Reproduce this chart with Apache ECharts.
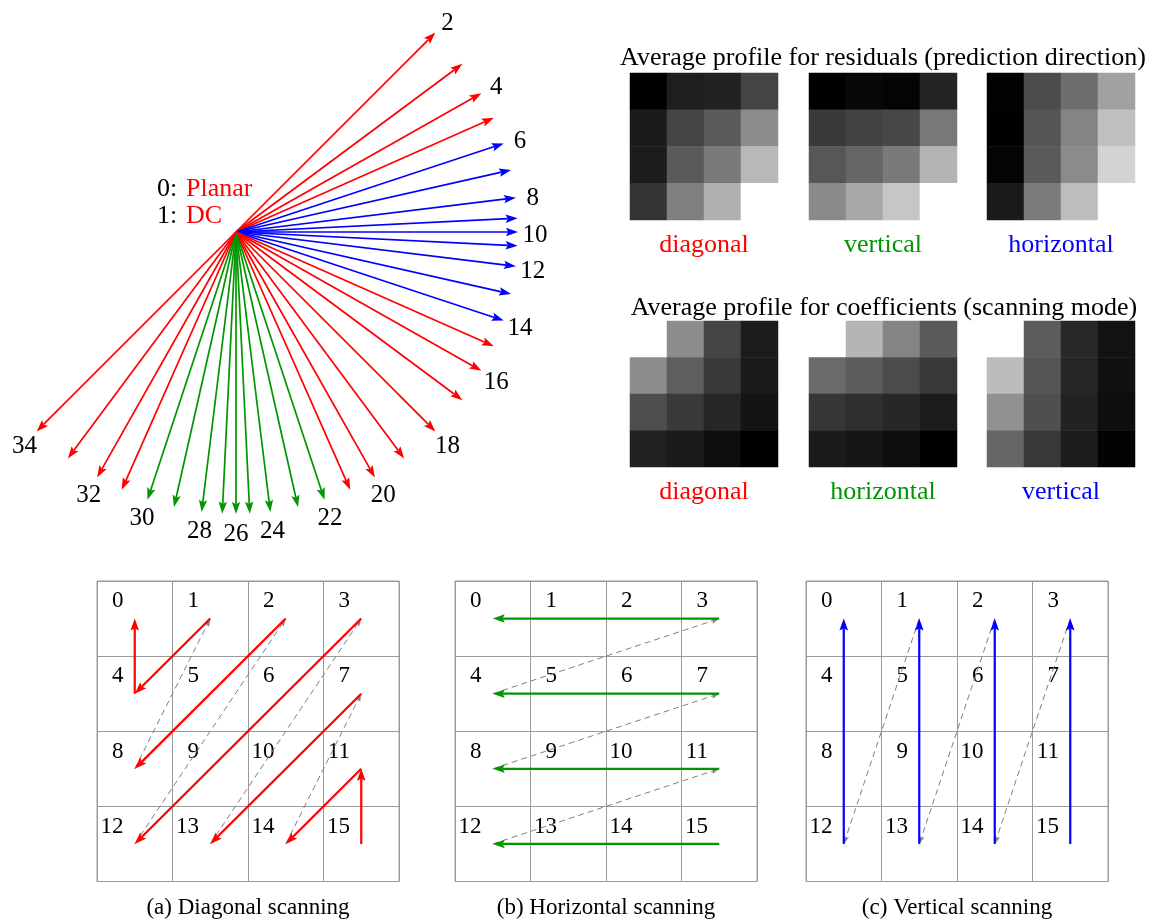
<!DOCTYPE html>
<html><head><meta charset="utf-8">
<script src="https://cdn.jsdelivr.net/npm/echarts@6/dist/echarts.min.js"></script>
<style>html,body{margin:0;padding:0;background:#fff}#c{width:1152px;height:920px}</style>
</head><body><div id="c"></div>
<script>
// ---------------- data ----------------
// intra prediction modes and the direction (degrees, counter-clockwise from +x) of each arrow
const modes = [2,3,4,5,6,7,8,9,10,11,12,13,14,15,16,17,18,19,20,21,22,23,24,25,26,27,28,29,30,31,32,33,34];
const modeAngles = [45,36.6,29.5,23.9,18.3,12.7,7.0,2.8,0,-2.8,-7.0,-12.7,-18.3,-23.9,-29.5,-36.6,-45,
  -53.4,-60.5,-66.1,-71.7,-77.3,-83.0,-87.2,-90,-92.8,-97.0,-102.7,-108.3,-113.9,-119.5,-126.6,-135];
const modeClass = ['diag','diag','diag','diag','horz','horz','horz','horz','horz','horz','horz','horz','horz',
  'diag','diag','diag','diag','diag','diag','diag','vert','vert','vert','vert','vert','vert','vert','vert','vert',
  'diag','diag','diag','diag'];
const labeledModes = [2,4,6,8,10,12,14,16,18,20,22,24,26,28,30,32,34];

// average profiles (gray level 0 = black, 255 = white), rows top -> bottom
const resDiagonal   = [[0,30,34,68],[27,69,90,140],[28,90,122,184],[51,127,176,255]];
const resVertical   = [[0,8,4,36],[58,66,71,120],[87,102,122,179],[138,168,198,255]];
const resHorizontal = [[2,75,110,161],[0,85,132,192],[5,90,139,211],[26,123,189,255]];
const coefDiagonal  = [[255,140,68,28],[140,94,56,27],[78,58,38,20],[33,27,14,0]];
const coefHorizontal= [[255,181,132,90],[106,92,75,56],[54,47,39,28],[27,22,15,0]];
const coefVertical  = [[255,92,40,18],[188,85,38,17],[145,79,34,14],[102,56,28,3]];
const profileNames1 = ['diagonal','vertical','horizontal'];
const profileNames2 = ['diagonal','horizontal','vertical'];
const title1 = 'Average profile for residuals (prediction direction)';
const title2 = 'Average profile for coefficients (scanning mode)';

// scanning orders: cell numbers and arrows [fromCell, toCell]
const cells = [0,1,2,3,4,5,6,7,8,9,10,11,12,13,14,15];
const diagSolid  = [[1,4],[4,0],[2,8],[3,12],[7,13],[11,14],[15,11]];
const diagDashed = [[8,1],[12,2],[13,3],[14,7]];
const horSolid   = [[3,0],[7,4],[11,8],[15,12]];
const horDashed  = [[4,3],[8,7],[12,11]];
const verSolid   = [[12,0],[13,1],[14,2],[15,3]];
const verDashed  = [[1,12],[2,13],[3,14]];
const scanCaptions = ['(a) Diagonal scanning','(b) Horizontal scanning','(c) Vertical scanning'];

// ---------------- styling ----------------
const FONT = '"Liberation Serif", "Times New Roman", serif';
const RED = '#ff0000', BLUE = '#0000ff', GREEN = '#009600';
const classColor = {diag: RED, horz: BLUE, vert: GREEN};
const ARROW_R = 282, LABEL_R = 299, LABEL_DY = 3;

function arrowShape(p0, p1, color, lw, L, W, dash) {
  const dx = p1[0]-p0[0], dy = p1[1]-p0[1];
  const len = Math.hypot(dx, dy);
  const ux = dx/len, uy = dy/len, nx = -uy, ny = ux;
  const bx = p1[0]-ux*L, by = p1[1]-uy*L;
  const mx = p1[0]-ux*L*0.82, my = p1[1]-uy*L*0.82;
  return [
    {type:'line', shape:{x1:p0[0], y1:p0[1], x2:mx, y2:my},
     style:{stroke:color, lineWidth:lw, lineDash:dash || null, fill:null}},
    {type:'polygon', shape:{points:[[p1[0],p1[1]],[bx+nx*W,by+ny*W],[mx,my],[bx-nx*W,by-ny*W]]},
     style:{fill:color, stroke:null}}
  ];
}

const hiddenVal = (min, max, gi) => ({type:'value', gridIndex:gi, min:min, max:max, show:false});
const xAxes = [], yAxes = [], grids = [], series = [];

// grid 0: prediction direction fan (1 unit = 1 px)
grids.push({left:0, top:0, width:600, height:560});
xAxes.push(hiddenVal(-236, 364, 0));
yAxes.push(hiddenVal(-328, 232, 0));
series.push({
  type:'custom', xAxisIndex:0, yAxisIndex:0, silent:true,
  data: modes.map((m,i) => [modeAngles[i], i]),
  renderItem(params, api) {
    const i = params.dataIndex;
    const a = modeAngles[i]*Math.PI/180;
    const p0 = api.coord([0,0]);
    const p1 = api.coord([ARROW_R*Math.cos(a), ARROW_R*Math.sin(a)]);
    return {type:'group', children: arrowShape(p0, p1, classColor[modeClass[i]], 1.7, 12, 4.2)};
  }
});
series.push({
  type:'custom', xAxisIndex:0, yAxisIndex:0, silent:true,
  data: labeledModes.map(m => [modeAngles[modes.indexOf(m)], m]),
  renderItem(params, api) {
    const m = labeledModes[params.dataIndex];
    const a = modeAngles[modes.indexOf(m)]*Math.PI/180;
    const p = api.coord([LABEL_R*Math.cos(a), LABEL_R*Math.sin(a)]);
    return {type:'text', x:p[0], y:p[1] + LABEL_DY, style:{text:String(m), fill:'#000', fontSize:25, fontFamily:FONT,
      align:'center', verticalAlign:'middle', textAlign:'center', textVerticalAlign:'middle'}};
  }
});

// grids 1..6: average profile heatmaps
const profiles = [
  {data:resDiagonal, name:profileNames1[0], color:RED},
  {data:resVertical, name:profileNames1[1], color:GREEN},
  {data:resHorizontal, name:profileNames1[2], color:BLUE},
  {data:coefDiagonal, name:profileNames2[0], color:RED},
  {data:coefHorizontal, name:profileNames2[1], color:GREEN},
  {data:coefVertical, name:profileNames2[2], color:BLUE}
];
const hmLefts = [630, 809, 987];
const heatSeriesIdx = [];
profiles.forEach((p, k) => {
  const gi = grids.length;
  const row = Math.floor(k/3);
  grids.push({left:hmLefts[k%3], top: row === 0 ? 73 : 321, width:148, height: row === 0 ? 147 : 146});
  xAxes.push({type:'category', gridIndex:gi, data:['0','1','2','3'], show:true,
    axisLine:{show:false}, axisTick:{show:false}, axisLabel:{show:false}, splitLine:{show:false},
    name:p.name, nameLocation:'middle', nameGap:25,
    nameTextStyle:{color:p.color, fontSize:26, fontFamily:FONT, verticalAlign:'middle'}});
  yAxes.push({type:'category', gridIndex:gi, data:['0','1','2','3'], inverse:true, show:false});
  const d = [];
  p.data.forEach((r, ri) => r.forEach((v, ci) => d.push([ci, ri, v])));
  heatSeriesIdx.push(series.length);
  series.push({type:'heatmap', xAxisIndex:gi, yAxisIndex:gi, data:d, silent:true,
    itemStyle:{borderWidth:0}, emphasis:{disabled:true}});
});

// grids 7..9: scanning orders
const scans = [
  {solid:diagSolid, dashed:diagDashed, color:RED, left:97},
  {solid:horSolid, dashed:horDashed, color:GREEN, left:455},
  {solid:verSolid, dashed:verDashed, color:BLUE, left:806}
];
scans.forEach((s, k) => {
  const gi = grids.length;
  grids.push({left:s.left, top:581, width:302, height:302, show:true, borderColor:'#9a9a9a', borderWidth:1});
  xAxes.push({type:'value', gridIndex:gi, min:0, max:4, interval:1, show:true,
    axisLine:{show:false}, axisTick:{show:false}, axisLabel:{show:false},
    splitLine:{show:true, lineStyle:{color:'#9a9a9a', width:1}},
    name:scanCaptions[k], nameLocation:'middle', nameGap:26,
    nameTextStyle:{color:'#000', fontSize:23, fontFamily:FONT, verticalAlign:'middle'}});
  yAxes.push({type:'value', gridIndex:gi, min:0, max:4, interval:1, inverse:true, show:true,
    axisLine:{show:false}, axisTick:{show:false}, axisLabel:{show:false},
    splitLine:{show:true, lineStyle:{color:'#9a9a9a', width:1}}});
  // cell numbers
  series.push({
    type:'custom', xAxisIndex:gi, yAxisIndex:gi, silent:true,
    data: cells.map(c => [c % 4, Math.floor(c / 4), c]),
    renderItem(params, api) {
      const c = cells[params.dataIndex];
      const p = api.coord([c % 4 + 0.35, Math.floor(c / 4) + 0.27]);
      return {type:'text', x:p[0], y:p[1], style:{text:String(c), fill:'#000', fontSize:23, fontFamily:FONT,
        align:'right', verticalAlign:'middle', textAlign:'right', textVerticalAlign:'middle'}};
    }
  });
  // arrows
  const arr = s.dashed.map(p => [p[0], p[1], 1]).concat(s.solid.map(p => [p[0], p[1], 0]));
  series.push({
    type:'custom', xAxisIndex:gi, yAxisIndex:gi, silent:true,
    data: arr,
    renderItem(params, api) {
      const it = arr[params.dataIndex];
      const f = it[0], t = it[1];
      const p0 = api.coord([f % 4 + 0.5, Math.floor(f / 4) + 0.5]);
      const p1 = api.coord([t % 4 + 0.5, Math.floor(t / 4) + 0.5]);
      const ch = it[2] ? arrowShape(p0, p1, '#808080', 1, 8, 2.8, [6, 4])
                       : arrowShape(p0, p1, s.color, 2.2, 12, 4.3);
      return {type:'group', children: ch};
    }
  });
});

const txt = (x, y, text, color, size, align) => ({type:'text', x:x, y:y, silent:true,
  style:{text:text, fill:color, fontSize:size, fontFamily:FONT, align:align, verticalAlign:'middle',
         textAlign:align, textVerticalAlign:'middle'}});

const chart = echarts.init(document.getElementById('c'), null, {renderer:'canvas'});
chart.setOption({
  animation:false,
  backgroundColor:'#ffffff',
  grid: grids, xAxis: xAxes, yAxis: yAxes, series: series,
  visualMap: {type:'continuous', show:false, min:0, max:255, seriesIndex:heatSeriesIdx,
    inRange:{color:['#000000','#ffffff']}},
  graphic: [
    txt(883, 58, title1, '#000', 26, 'center'),
    txt(884, 308, title2, '#000', 26, 'center'),
    txt(157, 189, '0:', '#000', 26, 'left'),
    txt(186, 189, 'Planar', RED, 26, 'left'),
    txt(157, 216, '1:', '#000', 26, 'left'),
    txt(186, 216, 'DC', RED, 26, 'left')
  ]
});
</script></body></html>
